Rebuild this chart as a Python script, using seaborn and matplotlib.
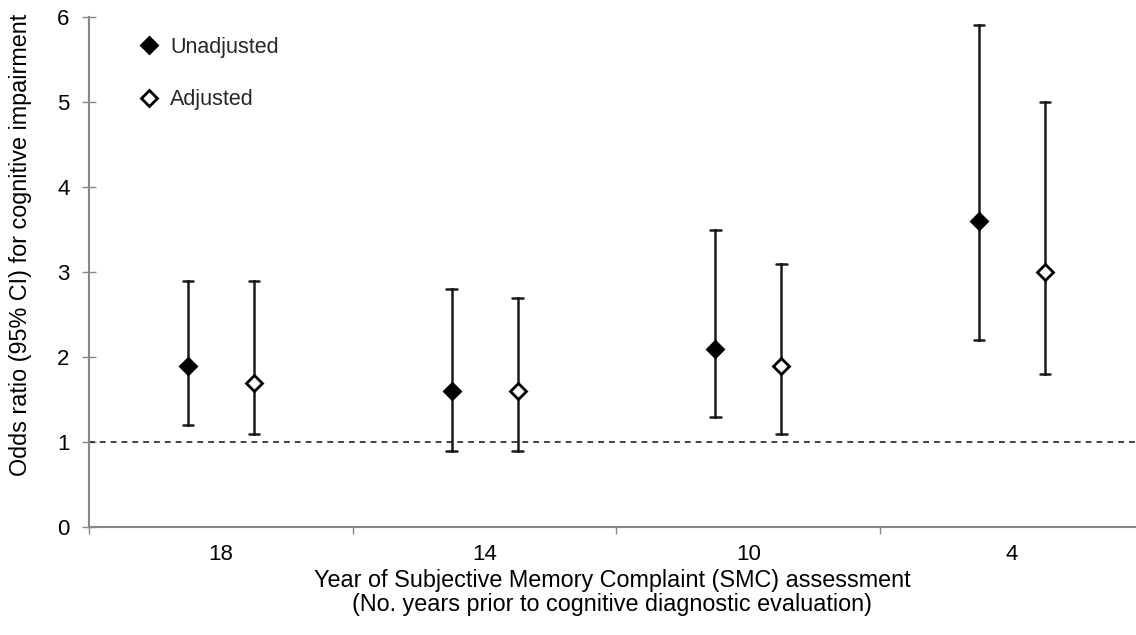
import matplotlib
matplotlib.use("Agg")
import matplotlib.pyplot as plt
from matplotlib.lines import Line2D
from matplotlib.ticker import FixedLocator
import seaborn as sns
import pandas as pd
import numpy as np

# ---- data ----
years = ["18", "14", "10", "4"]
series = ["Unadjusted", "Adjusted"]
unadj_or = [1.9, 1.6, 2.1, 3.6]
unadj_lo = [1.2, 0.9, 1.3, 2.2]
unadj_hi = [2.9, 2.8, 3.5, 5.9]
adj_or = [1.7, 1.6, 1.9, 3.0]
adj_lo = [1.1, 0.9, 1.1, 1.8]
adj_hi = [2.9, 2.7, 3.1, 5.0]

rows = []
for name, est, lo, hi in [("Unadjusted", unadj_or, unadj_lo, unadj_hi),
                          ("Adjusted", adj_or, adj_lo, adj_hi)]:
    for y, e, l, h in zip(years, est, lo, hi):
        for v in (l, e, h):
            rows.append({"year": y, "model": name, "value": v})
df = pd.DataFrame(rows)

sns.set_theme(style="white")
plt.rcParams["font.family"] = ["Liberation Sans", "DejaVu Sans"]

fig = plt.figure(figsize=(11.36, 6.35), dpi=100)
ax = fig.add_axes([89/1136, 108/635, 1 - 89/1136, (527-17)/635])

sns.pointplot(data=df, x="year", y="value", hue="model", order=years,
              hue_order=series, estimator="median",
              errorbar=lambda v: (np.min(v), np.max(v)),
              dodge=0.25, linestyle="none", markers=["D", "D"],
              palette=["black", "black"], capsize=0.04,
              err_kws={"linewidth": 1.8, "color": "#1a1a1a"},
              markersize=8.5, markeredgewidth=2, ax=ax, legend=False)

# open diamonds for adjusted
marker_lines = [l for l in ax.lines if l.get_marker() == "D"]
for ml in marker_lines:
    ml.set_zorder(5)
if len(marker_lines) >= 2:
    marker_lines[1].set_markerfacecolor("white")

ax.axhline(1, color="#222222", linestyle=(0, (3.5, 3)), linewidth=1.2, zorder=1)

ax.set_ylim(0, 6)
ax.set_xlim(-0.5, 3.47)
ax.set_yticks(range(0, 7))
ax.tick_params(axis="y", which="major", direction="inout", length=10, width=1,
               color="#888888", labelsize=16, labelcolor="black", pad=9, left=True)
ax.tick_params(axis="x", which="major", length=0, labelsize=16, labelcolor="black", pad=12)
ax.xaxis.set_minor_locator(FixedLocator([-0.5, 0.5, 1.5, 2.5]))
ax.tick_params(axis="x", which="minor", direction="out", length=5, width=1,
               color="#888888", bottom=True)

for s in ["top", "right"]:
    ax.spines[s].set_visible(False)
for s in ["left", "bottom"]:
    ax.spines[s].set_color("#888888")
    ax.spines[s].set_linewidth(1.5)

ax.set_ylabel("Odds ratio (95% CI) for cognitive impairment", fontsize=16.8,
              color="black")
ax.yaxis.set_label_coords(-0.054, 0.553)
ax.set_xlabel("Year of Subjective Memory Complaint (SMC) assessment\n"
              "(No. years prior to cognitive diagnostic evaluation)",
              fontsize=16.8, color="black", labelpad=3, linespacing=1.05)

handles = [Line2D([], [], marker="D", linestyle="none", color="black",
                  markerfacecolor="black", markersize=8.5, markeredgewidth=2),
           Line2D([], [], marker="D", linestyle="none", color="black",
                  markerfacecolor="white", markersize=8.5, markeredgewidth=2)]
ax.legend(handles, series, loc="upper left", bbox_to_anchor=(0.026, 0.999),
          frameon=False, fontsize=15.5, labelspacing=1.45, handletextpad=0.4,
          handlelength=1.2)

fig.savefig("out.png", dpi=100)
